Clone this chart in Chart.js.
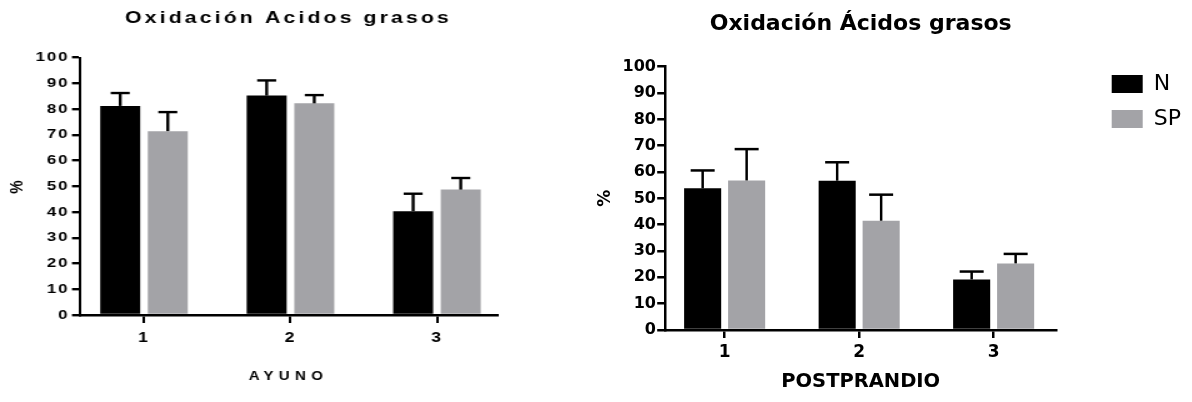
<!DOCTYPE html>
<html>
<head>
<meta charset="utf-8">
<script src="https://cdn.jsdelivr.net/npm/chart.js@4.4.1/dist/chart.umd.min.js"></script>
<style>
    body { margin: 0; background: #fff; }
    #wrap { position: relative; width: 1192px; height: 402px; }
    canvas { position: absolute; top: 0; }
    /* linkes Diagramm ist im Original horizontal gestreckt */
    #ayuno { left: 0; transform: scaleX(1.25); transform-origin: 0 0; }
    #post { left: 560px; }
</style>
</head>
<body>
<div id="wrap">
    <canvas id="ayuno" width="448" height="402"></canvas>
    <canvas id="post" width="632" height="402"></canvas>
</div>
<script>
// Daten
const categories = [1, 2, 3];
const seriesNames = ['N', 'SP'];
const seriesColors = ['#000000', '#a3a3a7'];
const yMin = 0, yMax = 100, yStep = 10;

const ayunoN = [81.2, 85.2, 40.3];
const ayunoNErr = [5.0, 5.9, 6.8];
const ayunoSP = [71.4, 82.2, 48.7];
const ayunoSPErr = [7.4, 3.2, 4.5];

const postN = [53.8, 56.7, 19.2];
const postNErr = [6.8, 7.0, 3.0];
const postSP = [56.8, 41.5, 25.3];
const postSPErr = [11.9, 9.9, 3.6];

Chart.defaults.color = '#000';

// Fehlerbalken (nur nach oben)
const errorBars = {
    id: 'errorBars',
    afterDatasetsDraw(chart, args, opts) {
        const ctx = chart.ctx;
        const y = chart.scales.y;
        ctx.save();
        ctx.strokeStyle = '#000';
        chart.data.datasets.forEach((ds, i) => {
            chart.getDatasetMeta(i).data.forEach((bar, j) => {
                const top = y.getPixelForValue(ds.data[j].y + ds.errors[j]);
                ctx.lineWidth = opts.stem;
                ctx.beginPath();
                ctx.moveTo(bar.x, bar.y);
                ctx.lineTo(bar.x, top);
                ctx.stroke();
                ctx.lineWidth = opts.capWidth;
                ctx.beginPath();
                ctx.moveTo(bar.x - opts.cap, top);
                ctx.lineTo(bar.x + opts.cap, top);
                ctx.stroke();
            });
        });
        ctx.restore();
    }
};

// Buchstabenabstand (linkes Diagramm)
function withSpacing(obj, key, value) {
    if (!obj || obj['_sp_' + key]) return;
    const orig = obj[key];
    obj[key] = function() {
        const ctx = this.ctx;
        const old = ctx.letterSpacing;
        ctx.letterSpacing = value;
        orig.apply(this, arguments);
        ctx.letterSpacing = old;
    };
    obj['_sp_' + key] = true;
}

const spacing = {
    id: 'spacing',
    beforeDraw(chart, args, opts) {
        if (!opts.ticks) return;
        chart.ctx.letterSpacing = opts.ticks;
        withSpacing(chart.scales.x, 'drawTitle', opts.xTitle);
        withSpacing(chart.titleBlock, 'draw', opts.title);
    },
    afterDraw(chart) {
        chart.ctx.letterSpacing = '0px';
    }
};

// Legende neben dem Diagramm platzieren
const legendPlace = {
    id: 'legendPlace',
    afterLayout(chart, args, opts) {
        const lg = chart.legend;
        if (!lg || opts.left === undefined) return;
        lg.left = opts.left;
        lg.right = opts.left + lg.width;
        lg.top = opts.top;
        lg.bottom = opts.top + lg.height;
    }
};

function toPoints(values) {
    return values.map((v, i) => ({ x: categories[i], y: v }));
}

function makeChart(id, cfg) {
    const axisColor = '#000';
    const fam = cfg.family;
    return new Chart(document.getElementById(id), {
        type: 'bar',
        data: {
            datasets: [{
                label: seriesNames[0],
                data: toPoints(cfg.n),
                errors: cfg.nErr,
                backgroundColor: seriesColors[0],
                borderWidth: 0,
                categoryPercentage: cfg.catPct,
                barPercentage: cfg.barPct
            }, {
                label: seriesNames[1],
                data: toPoints(cfg.sp),
                errors: cfg.spErr,
                backgroundColor: seriesColors[1],
                borderWidth: 0,
                categoryPercentage: cfg.catPct,
                barPercentage: cfg.barPct
            }]
        },
        options: {
            responsive: false,
            animation: false,
            layout: { padding: { left: 0, right: cfg.padRight, top: 0, bottom: 0 } },
            plugins: {
                tooltip: { enabled: false },
                legend: cfg.legend,
                title: {
                    display: true,
                    fullSize: false,
                    text: cfg.title,
                    color: '#000',
                    font: { family: fam, size: cfg.titleSize, weight: 'bold' },
                    padding: cfg.titlePad
                },
                errorBars: { cap: cfg.cap, stem: cfg.stem, capWidth: cfg.hLine },
                spacing: cfg.spacing || {},
                legendPlace: cfg.legendPlace || {}
            },
            scales: {
                x: {
                    type: 'linear',
                    offset: false,
                    min: cfg.xMin,
                    max: cfg.xMax,
                    afterBuildTicks: s => { s.ticks = categories.map(v => ({ value: v })); },
                    afterFit: s => { s.height = cfg.xHeight; },
                    grid: { offset: false, drawOnChartArea: false, tickLength: 8, lineWidth: cfg.vLine, color: axisColor },
                    border: { color: axisColor, width: cfg.hLine },
                    ticks: { color: '#000', font: { family: fam, size: cfg.xTickSize, weight: 'bold' }, padding: cfg.xTickPad },
                    title: {
                        display: true,
                        text: cfg.xTitle,
                        color: '#000',
                        font: { family: fam, size: cfg.xTitleSize, weight: 'bold' },
                        padding: { top: 0, bottom: cfg.xTitlePad }
                    }
                },
                y: {
                    min: yMin,
                    max: yMax,
                    afterFit: s => { s.width = cfg.yWidth; },
                    grid: { drawOnChartArea: false, tickLength: cfg.yTickLen, lineWidth: cfg.hLine, color: axisColor },
                    border: { color: axisColor, width: cfg.vLine },
                    ticks: { stepSize: yStep, color: '#000', font: { family: fam, size: cfg.yTickSize, weight: 'bold' }, padding: cfg.yTickPad },
                    title: {
                        display: true,
                        text: '%',
                        color: '#000',
                        font: { family: fam, size: cfg.yTitleSize, weight: 'bold' },
                        padding: { top: cfg.yTitlePad, bottom: 0 }
                    }
                }
            }
        },
        plugins: [errorBars, spacing, legendPlace]
    });
}

// AYUNO: wird per CSS um 1.25 in der Breite gestreckt
makeChart('ayuno', {
    n: ayunoN, nErr: ayunoNErr, sp: ayunoSP, spErr: ayunoSPErr,
    family: "'Liberation Sans', Arial, sans-serif",
    title: 'Oxidación Acidos grasos', titleSize: 17, titlePad: { top: 7.7, bottom: 29.4 },
    xTitle: 'AYUNO', xTitleSize: 12, xTitlePad: 18.1,
    xMin: 0.563, xMax: 3.41, xHeight: 87, xTickSize: 14, xTickPad: 6.6,
    yWidth: 64, yTickLen: 6.4, yTickSize: 13.5, yTickPad: 2.2, yTitleSize: 15, yTitlePad: 4.4,
    padRight: 50.4, catPct: 0.65, barPct: 0.84, cap: 7.6,
    vLine: 2, hLine: 2.4, stem: 2.4,
    legend: { display: false },
    spacing: { ticks: '1.5px', title: '2.5px', xTitle: '4.3px' }
});

makeChart('post', {
    n: postN, nErr: postNErr, sp: postSP, spErr: postSPErr,
    family: "'DejaVu Sans', sans-serif",
    title: 'Oxidación Ácidos grasos', titleSize: 22, titlePad: { top: 10.8, bottom: 29.5 },
    xTitle: 'POSTPRANDIO', xTitleSize: 19.5, xTitlePad: 8.8,
    xMin: 0.558, xMax: 3.465, xHeight: 72, xTickSize: 17, xTickPad: 4.8,
    yWidth: 105.2, yTickLen: 8, yTickSize: 16, yTickPad: 1.2, yTitleSize: 17, yTitlePad: 35.2,
    padRight: 135.8, catPct: 0.654, barPct: 0.843, cap: 12,
    vLine: 2.5, hLine: 2.5, stem: 2.5,
    legend: {
        display: true,
        position: 'chartArea',
        align: 'start',
        labels: { boxWidth: 31, boxHeight: 18, padding: 13, color: '#000', font: { family: "'DejaVu Sans', sans-serif", size: 22 } }
    },
    legendPlace: { left: 538.7, top: 60 }
});
</script>
</body>
</html>
